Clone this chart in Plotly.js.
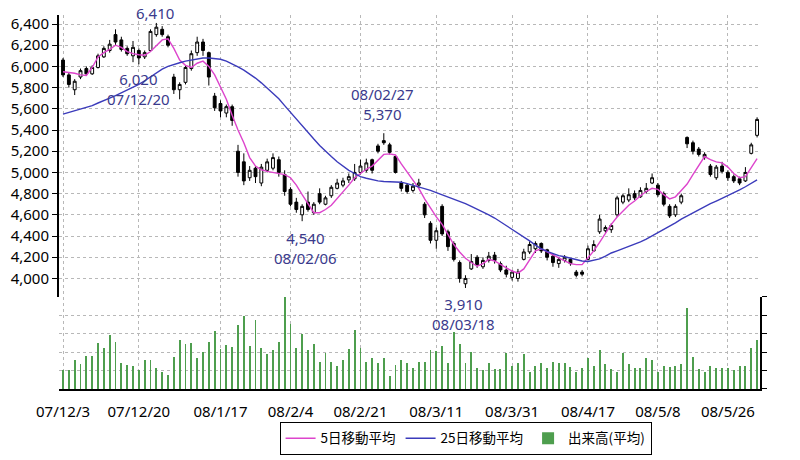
<!DOCTYPE html>
<html>
<head>
<meta charset="utf-8">
<script src="https://cdn.plot.ly/plotly-3.0.1.min.js"></script>
<style>html,body{margin:0;padding:0;background:#fff;}#chart{width:800px;height:460px;}</style>
</head>
<body>
<div id="chart"></div>
<script>
// ---- data (trading-day index 0 = 07/12/3) ----
const tickIdx = [0, 13, 27, 39, 51, 64, 77, 90, 102, 114];
const tickLabels = ["07/12/3", "07/12/20", "08/1/17", "08/2/4", "08/2/21", "08/3/11", "08/3/31", "08/4/17", "08/5/8", "08/5/26"];

const opens = [6060,5920,5780,5900,5980,5930,5990,6090,6150,6300,
 6250,6170,6100,6150,6090,6150,6300,6350,6280,5900,
 5780,5850,5980,6130,6230,6130,5720,5650,5560,5620,
 5200,5100,4950,5040,4900,5020,5040,5120,4980,4840,
 4720,4600,4720,4620,4800,4700,4780,4850,4880,4930,
 4940,5000,5020,5120,5250,5300,5260,5150,4900,4880,
 4830,4880,4700,4520,4360,4680,4440,4330,4150,3950,
 4090,4200,4110,4170,4220,4140,4080,4010,4000,4180,
 4250,4280,4330,4270,4210,4140,4170,4180,4060,4060,
 4180,4260,4440,4450,4460,4600,4720,4740,4800,4770,
 4820,4900,4880,4800,4680,4600,4720,5330,5280,5220,
 5140,5060,4950,5060,5000,4960,4940,4920,5180,5350];
const closes = [5920,5830,5860,5960,5930,5990,6100,6170,6210,6230,
 6160,6120,6180,6080,6130,6330,6370,6300,6200,5780,
 5830,5990,6120,6230,6150,5900,5610,5580,5620,5490,
 5000,4920,5020,4960,5050,5100,5140,5000,4820,4700,
 4650,4680,4650,4700,4720,4760,4860,4900,4920,4960,
 5000,5060,5090,5020,5200,5280,5190,5000,4850,4820,
 4870,4900,4600,4360,4450,4420,4300,4180,4000,4000,
 4160,4130,4170,4210,4170,4080,4040,4060,4060,4250,
 4320,4330,4260,4200,4150,4180,4200,4140,4030,4040,
 4280,4320,4560,4480,4500,4760,4780,4790,4760,4830,
 4850,4950,4790,4700,4590,4680,4780,5270,5200,5170,
 5170,4980,5050,5010,4950,4920,4900,5000,5260,5500];
const highs = [6080,5940,5880,5980,6000,6010,6120,6190,6250,6350,
 6280,6190,6240,6170,6150,6350,6410,6380,6300,5930,
 5850,6010,6150,6280,6260,6140,5750,5680,5640,5640,
 5260,5180,5060,5060,5080,5130,5180,5150,5020,4860,
 4760,4700,4820,4720,4850,4780,4880,4940,4950,4990,
 5080,5120,5130,5130,5270,5370,5280,5160,4920,4900,
 4900,4940,4720,4540,4480,4700,4460,4350,4170,4030,
 4230,4220,4200,4250,4250,4160,4120,4080,4090,4280,
 4350,4350,4340,4280,4230,4200,4220,4190,4080,4080,
 4310,4360,4600,4500,4520,4780,4800,4850,4830,4860,
 4900,4990,4900,4820,4700,4700,4800,5340,5300,5240,
 5190,5080,5070,5100,5020,4980,4960,5050,5280,5520];
const lows = [5900,5800,5730,5880,5910,5920,5980,6080,6130,6200,
 6140,6100,6040,6020,6070,6140,6280,6280,6180,5740,
 5690,5830,5960,6100,6100,5820,5580,5520,5520,5440,
 4960,4880,4920,4900,4870,5000,5020,4960,4780,4680,
 4620,4540,4630,4600,4700,4690,4760,4840,4860,4900,
 4920,4980,5000,4990,5180,5260,5170,4990,4820,4800,
 4810,4850,4570,4330,4280,4400,4260,4160,3960,3910,
 4080,4100,4090,4150,4140,4060,4010,3980,3970,4170,
 4230,4240,4240,4170,4110,4100,4150,4120,4010,4020,
 4170,4250,4420,4430,4430,4580,4700,4720,4740,4760,
 4800,4890,4770,4680,4570,4580,4700,5230,5170,5150,
 5120,4960,4930,4990,4920,4900,4880,4910,5170,5330];
const ma5 = [5950,5945,5935,5920,5915,5990,6090,6130,6160,6200,
 6180,6140,6120,6110,6105,6140,6200,6250,6260,6170,
 6060,6010,5990,6030,6050,6000,5920,5810,5690,5540,
 5400,5280,5140,5060,5025,5010,5000,4990,4980,4950,
 4880,4790,4700,4620,4620,4650,4690,4750,4820,4880,
 4950,4990,5030,5060,5120,5170,5175,5165,5080,5000,
 4920,4850,4750,4660,4580,4510,4410,4320,4250,4190,
 4150,4115,4140,4180,4165,4130,4100,4070,4050,4090,
 4170,4260,4280,4250,4225,4195,4165,4140,4130,4130,
 4190,4260,4340,4430,4510,4580,4640,4690,4730,4780,
 4820,4850,4840,4790,4750,4770,4830,4890,4980,5070,
 5150,5120,5100,5090,5050,4990,4950,4960,5050,5130];
const ma25 = [5550,5565,5580,5595,5610,5630,5655,5675,5700,5725,
 5750,5775,5800,5830,5865,5900,5940,5975,6000,6020,
 6035,6050,6062,6072,6080,6080,6075,6068,6050,6025,
 5995,5965,5930,5890,5845,5795,5745,5695,5630,5565,
 5500,5440,5375,5315,5255,5200,5150,5100,5060,5020,
 4990,4960,4945,4930,4920,4915,4912,4910,4908,4895,
 4880,4865,4850,4830,4810,4790,4765,4745,4725,4705,
 4680,4655,4630,4600,4570,4535,4500,4465,4430,4395,
 4355,4315,4280,4255,4235,4215,4205,4190,4175,4165,
 4160,4170,4185,4210,4240,4260,4280,4300,4320,4345,
 4370,4400,4430,4460,4490,4525,4560,4590,4615,4645,
 4675,4705,4730,4755,4780,4805,4835,4865,4895,4930];
const volume = [103,103,157,135,178,178,250,225,292,256,
 139,132,124,103,157,157,115,94,76,175,
 265,247,252,166,200,256,315,218,241,229,
 346,395,232,377,225,189,214,256,503,355,
 225,301,211,243,148,193,148,124,157,218,
 323,225,148,171,139,166,72,130,157,139,
 112,148,148,211,207,232,139,310,243,139,
 200,112,103,142,108,108,196,124,139,189,
 94,124,139,112,148,142,142,117,94,112,
 166,124,211,135,106,94,196,135,112,112,
 166,157,94,124,117,124,135,441,175,106,
 94,124,113,113,112,103,124,124,225,265];

// extreme-value labels (the top one's date line lies above the picture, only the value shows)
const marks = [
  {i: 16, p: 6410, date: "", kind: "max"},
  {i: 13, p: 6020, date: "07/12/20", kind: "min"},
  {i: 55, p: 5370, date: "08/02/27", kind: "max"},
  {i: 41, p: 4540, date: "08/02/06", kind: "min"},
  {i: 69, p: 3910, date: "08/03/18", kind: "min"}
];
// label placement: [x index, paper y of label centre]
const markPos = [[15.8, 1.005], [13.0, 0.802], [54.7, 0.762], [41.5, 0.378], [68.7, 0.2005]];

const xs = closes.map((_, i) => i);
const fmt = v => v.toLocaleString("en-US");

const traces = [
  {type: "candlestick", x: xs, open: opens, high: highs, low: lows, close: closes,
   xaxis: "x", yaxis: "y", showlegend: false, hoverinfo: "skip",
   increasing: {line: {color: "#000", width: 1}, fillcolor: "#ffffff"},
   decreasing: {line: {color: "#000", width: 1}, fillcolor: "#000000"},
   whiskerwidth: 0},
  {type: "scatter", mode: "lines", x: xs, y: ma5, name: "5日移動平均",
   line: {color: "#dd44cc", width: 1.4}, xaxis: "x", yaxis: "y"},
  {type: "scatter", mode: "lines", x: xs, y: ma25, name: "25日移動平均",
   line: {color: "#3b3bbb", width: 1.4}, xaxis: "x", yaxis: "y"},
  {type: "bar", x: xs, y: volume, name: "出来高(平均)", width: 0.33,
   marker: {color: "#4e9e4e", line: {width: 0}}, xaxis: "x", yaxis: "y2"}
];

const annotations = marks.map((m, k) => ({
  x: markPos[k][0], y: markPos[k][1], xref: "x", yref: "paper",
  text: m.date === "" ? fmt(m.p) :
        (m.kind === "max" ? (m.date + "<br>" + fmt(m.p)) : (fmt(m.p) + "<br>" + m.date)),
  showarrow: false, xanchor: "center", yanchor: "middle", borderpad: 0,
  font: {family: "Noto Sans, sans-serif", size: 15, color: "#3a3a8c"}
}));

const gridStyle = {gridcolor: "#b8b8b8", griddash: "dot", gridwidth: 1};

const layout = {
  width: 800, height: 460,
  margin: {l: 59, r: 40, t: 15, b: 71, autoexpand: false},
  paper_bgcolor: "#fff", plot_bgcolor: "#fff",
  font: {family: "Noto Sans, sans-serif", size: 15, color: "#000"},
  showlegend: true,
  legend: {orientation: "h", x: 0.58, xanchor: "center", y: -0.088, yanchor: "top",
           bordercolor: "#000", borderwidth: 1, bgcolor: "#fff",
           font: {family: "Noto Sans CJK JP, sans-serif", size: 13.5, color: "#000"},
           itemwidth: 30, tracegroupgap: 0},
  xaxis: Object.assign({
    range: [-0.69, 119.5], anchor: "y2", tickmode: "array", tickvals: tickIdx, ticktext: tickLabels,
    showgrid: true, ticks: "", showline: true, linecolor: "#000", linewidth: 2,
    ticklabelstandoff: 8,
    rangeslider: {visible: false}, zeroline: false, tickfont: {size: 15}
  }, gridStyle),
  yaxis: Object.assign({
    domain: [0.246, 1], range: [3825, 6485], tickmode: "array",
    tickvals: [4000,4200,4400,4600,4800,5000,5200,5400,5600,5800,6000,6200,6400],
    tickformat: ",", ticks: "outside", ticklen: 5, tickcolor: "#000",
    showline: true, linecolor: "#000", linewidth: 2, zeroline: false, tickfont: {size: 15}
  }, gridStyle),
  yaxis2: Object.assign({
    domain: [0, 0.246], range: [0, 500], dtick: 100, side: "right", anchor: "x",
    showticklabels: false, ticks: "outside", ticklen: 5, tickcolor: "#000",
    showline: true, linecolor: "#000", linewidth: 2, zeroline: false
  }, gridStyle),
  annotations: annotations,
  bargap: 0
};

Plotly.newPlot("chart", traces, layout, {staticPlot: true, displayModeBar: false});
</script>
</body>
</html>
